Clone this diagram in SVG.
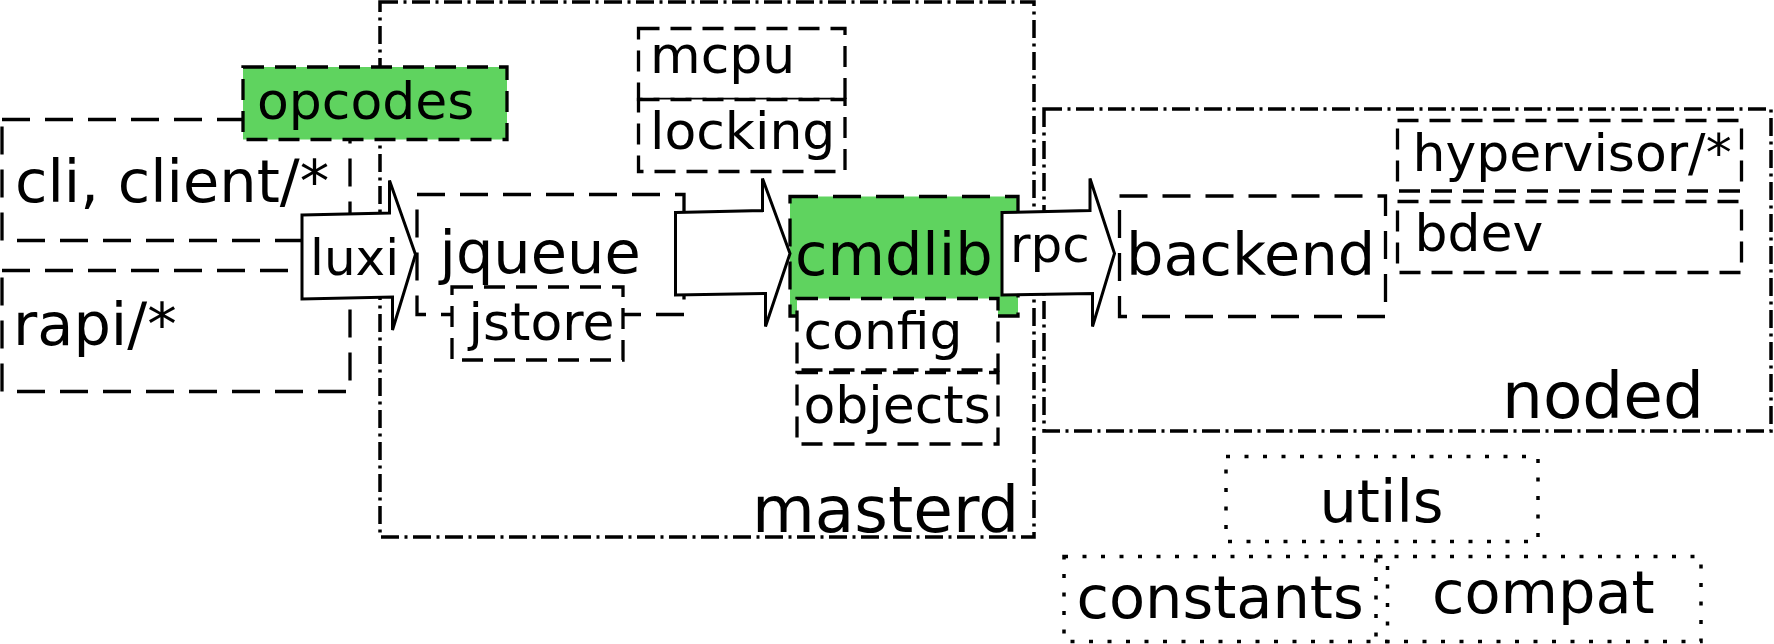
<svg xmlns="http://www.w3.org/2000/svg" width="1774" height="644" viewBox="0 0 1774 644">
<style>
text{font-family:"DejaVu Sans","Liberation Sans",sans-serif;fill:#000}
.t52{font-size:52px}.t50{font-size:50px}.t59{font-size:59px}.t65{font-size:64.5px}
.cont{fill:none;stroke:#000;stroke-width:3.5;stroke-dasharray:18 5.5 3 5.5}
.big{fill:#fff;stroke:#000;stroke-width:3.3;stroke-dasharray:28 15}
.small{fill:#fff;stroke:#000;stroke-width:3.3;stroke-dasharray:21 11}
.green{fill:#5fd35f}
.dot{fill:none;stroke:#000;stroke-width:3.5;stroke-dasharray:4 14.5}
.arrow{fill:#fff;stroke:#000;stroke-width:3;stroke-linejoin:miter}
</style>
<g id="masterd"><rect class="cont" x="380" y="2" width="654" height="535"/><text class="t65" x="752" y="531.5">masterd</text></g>
<g id="noded"><rect class="cont" x="1044" y="109" width="727" height="322"/><text class="t65" x="1502" y="418">noded</text></g>
<g id="cli"><rect class="big" x="2" y="119.5" width="348" height="121"/><text class="t59" x="15" y="201.5">cli, client/*</text></g>
<g id="rapi"><rect class="big" x="2" y="270.5" width="348" height="121"/><text class="t59" x="13" y="345">rapi/*</text></g>
<g id="opcodes"><rect class="small green" x="243" y="67" width="264" height="72.5"/><text class="t52" x="257" y="118.5">opcodes</text></g>
<g id="jqueue"><rect class="big" x="417" y="194.5" width="267" height="120"/><text class="t59" x="439.5" y="273">jqueue</text></g>
<g id="jstore"><rect class="small" x="452" y="287" width="171" height="73"/><text class="t52" x="468.5" y="340">jstore</text></g>
<g id="mcpu"><rect class="small" x="638.5" y="28.5" width="206.5" height="71"/><text class="t52" x="650" y="72.5">mcpu</text></g>
<g id="locking"><rect class="small" x="638.5" y="99.5" width="206.5" height="72"/><text class="t52" x="650" y="149">locking</text></g>
<g id="cmdlib"><rect class="big green" x="790" y="196.5" width="228" height="119.5"/><text class="t59" x="795" y="275">cmdlib</text></g>
<g id="config"><rect class="small" x="797" y="298.5" width="201" height="71.5"/><text class="t52" x="803.5" y="348.5">config</text></g>
<g id="objects"><rect class="small" x="797" y="372.5" width="201" height="71.5"/><text class="t52" x="803.5" y="422.5">objects</text></g>
<g id="backend"><rect class="big" x="1119.5" y="196" width="266" height="120.5"/><text class="t59" x="1126" y="275">backend</text></g>
<g id="hypervisor"><rect class="small" x="1397.5" y="120.5" width="344" height="70.5"/><text class="t52" x="1412.5" y="170.5">hypervisor/*</text></g>
<g id="bdev"><rect class="small" x="1397.5" y="201.5" width="344" height="71"/><text class="t52" x="1414.5" y="250.5">bdev</text></g>
<g id="utils"><rect class="dot" x="1226" y="456.5" width="312" height="85"/><text class="t59" x="1381.5" y="521.5" text-anchor="middle">utils</text></g>
<g id="constants"><rect class="dot" x="1064" y="556.5" width="323.5" height="85"/><text class="t59" x="1076.5" y="618">constants</text></g>
<g id="compat"><rect class="dot" x="1376" y="556.5" width="325" height="85"/><text class="t59" x="1432" y="613">compat</text></g>
<g id="connectors">
<g id="luxi"><polygon class="arrow" points="302,215 389.5,213 389.5,180.5 415.5,254.5 392.5,330 392.5,297 302,299"/><text class="t50" x="310" y="274.5">luxi</text></g>
<g id="jqueue-cmdlib"><polygon class="arrow" points="675.5,212.5 762.5,210.5 762.5,178.5 790,253.5 765.5,326.5 765.5,293.5 675.5,295"/></g>
<g id="rpc"><polygon class="arrow" points="1002,212.5 1090,210.5 1090,178.5 1114.5,253.5 1092.5,326.5 1092.5,293.5 1002,295"/><text class="t50" x="1010" y="261.5">rpc</text></g>
</g>
</svg>
